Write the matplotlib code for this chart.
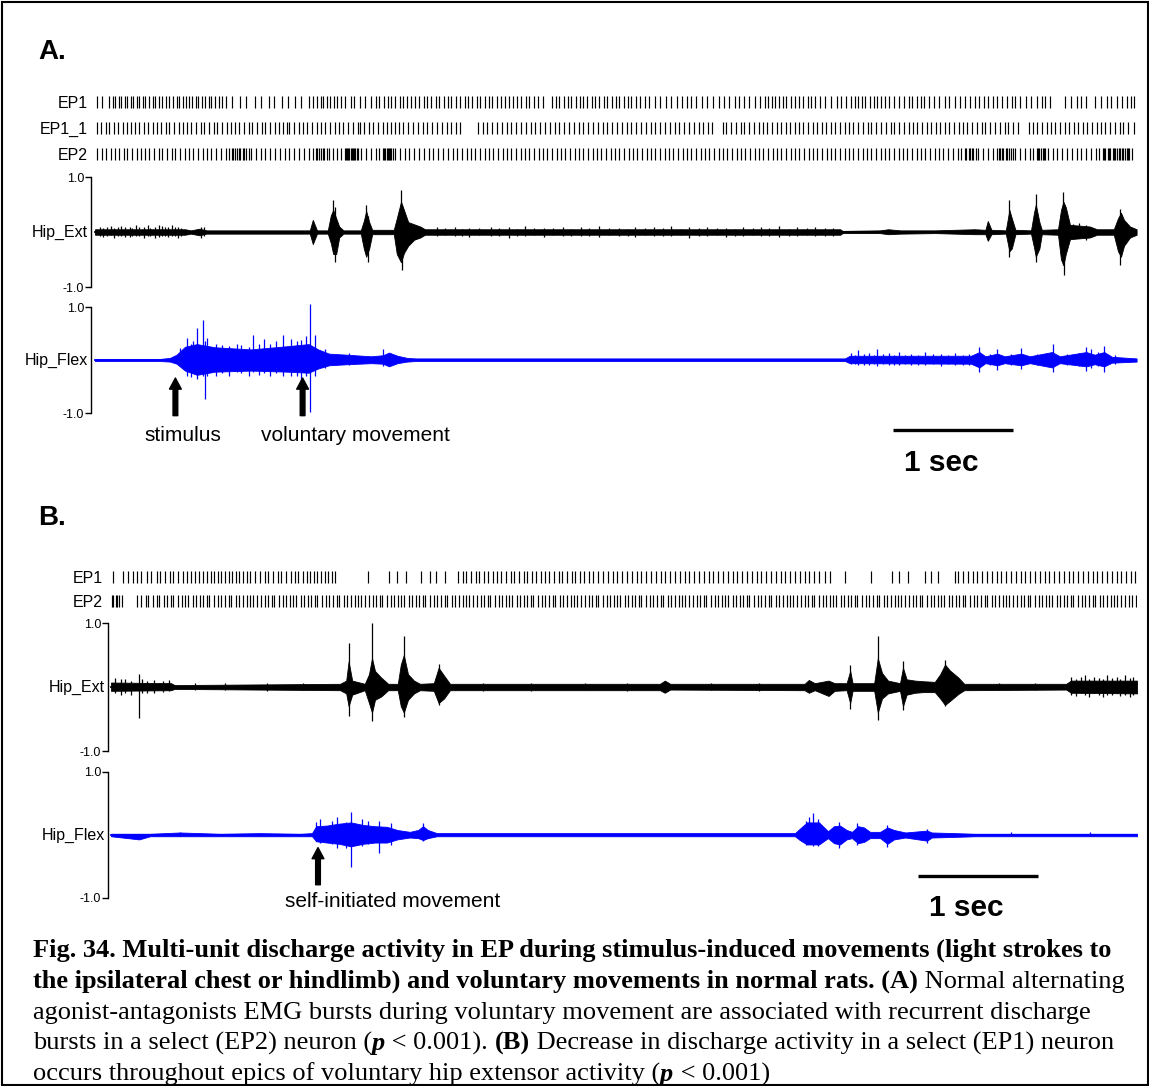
import numpy as np
import matplotlib.pyplot as plt
from matplotlib.patches import Rectangle
import matplotlib.transforms as mtransforms

plt.rcParams['font.family'] = ['Liberation Sans', 'DejaVu Sans']

# ---------------- data (time in seconds, EMG in normalised units) ----------------
# panel A spike trains
ep1_a = [0.02, 0.06, 0.12, 0.15, 0.17, 0.2, 0.22, 0.25, 0.27, 0.3, 0.32, 0.35, 0.37, 0.4, 0.42, 0.45, 0.48, 0.5,
         0.53, 0.56, 0.59, 0.62, 0.65, 0.68, 0.7, 0.73, 0.76, 0.78, 0.81, 0.84, 0.86, 0.89, 0.92, 0.95, 0.97, 1.0,
         1.03, 1.06, 1.09, 1.14, 1.21, 1.26, 1.33, 1.38, 1.45, 1.49, 1.56, 1.61, 1.67, 1.72, 1.78, 1.82, 1.85, 1.88,
         1.9, 1.93, 1.96, 1.99, 2.02, 2.05, 2.08, 2.13, 2.16, 2.21, 2.25, 2.3, 2.34, 2.37, 2.41, 2.44, 2.47, 2.5,
         2.54, 2.57, 2.6, 2.63, 2.67, 2.7, 2.74, 2.77, 2.8, 2.84, 2.87, 2.91, 2.94, 2.97, 3.01, 3.04, 3.08, 3.11,
         3.14, 3.18, 3.21, 3.25, 3.28, 3.31, 3.35, 3.38, 3.42, 3.45, 3.48, 3.52, 3.55, 3.59, 3.62, 3.66, 3.69, 3.73,
         3.81, 3.84, 3.87, 3.91, 3.94, 3.97, 4.01, 4.04, 4.07, 4.1, 4.14, 4.17, 4.2, 4.24, 4.27, 4.31, 4.34, 4.37,
         4.41, 4.44, 4.47, 4.51, 4.54, 4.58, 4.62, 4.67, 4.71, 4.76, 4.8, 4.85, 4.89, 4.93, 4.97, 5.01, 5.06, 5.1,
         5.15, 5.2, 5.24, 5.28, 5.33, 5.37, 5.41, 5.45, 5.5, 5.54, 5.58, 5.61, 5.64, 5.67, 5.7, 5.73, 5.76, 5.8,
         5.83, 5.87, 5.9, 5.94, 5.97, 6.0, 6.04, 6.08, 6.13, 6.18, 6.22, 6.26, 6.3, 6.33, 6.36, 6.39, 6.42, 6.46,
         6.49, 6.52, 6.55, 6.58, 6.62, 6.66, 6.7, 6.74, 6.78, 6.81, 6.85, 6.88, 6.91, 6.95, 6.99, 7.03, 7.08, 7.12,
         7.17, 7.21, 7.25, 7.29, 7.33, 7.37, 7.41, 7.44, 7.48, 7.52, 7.56, 7.6, 7.64, 7.67, 7.71, 7.76, 7.8, 7.85,
         7.89, 7.92, 7.96, 8.08, 8.13, 8.18, 8.22, 8.26, 8.33, 8.38, 8.43, 8.47, 8.52, 8.56, 8.6, 8.63, 8.66]
ep1_1_a = [0.02, 0.05, 0.09, 0.12, 0.16, 0.19, 0.23, 0.27, 0.3, 0.33, 0.37, 0.41, 0.44, 0.48, 0.52, 0.55, 0.59,
           0.62, 0.66, 0.7, 0.73, 0.77, 0.8, 0.84, 0.88, 0.91, 0.95, 0.99, 1.02, 1.06, 1.1, 1.13, 1.17, 1.2, 1.24,
           1.28, 1.31, 1.35, 1.39, 1.42, 1.46, 1.5, 1.53, 1.57, 1.6, 1.62, 1.66, 1.7, 1.73, 1.77, 1.81, 1.85, 1.88,
           1.92, 1.96, 2.0, 2.03, 2.07, 2.11, 2.15, 2.19, 2.21, 2.24, 2.28, 2.32, 2.36, 2.4, 2.43, 2.47, 2.5, 2.53,
           2.57, 2.61, 2.65, 2.69, 2.73, 2.77, 2.81, 2.85, 2.89, 2.93, 2.97, 3.01, 3.04, 3.19, 3.23, 3.27, 3.31,
           3.35, 3.39, 3.43, 3.47, 3.51, 3.55, 3.59, 3.63, 3.67, 3.71, 3.75, 3.79, 3.83, 3.87, 3.91, 3.95, 3.99,
           4.03, 4.07, 4.11, 4.15, 4.19, 4.23, 4.27, 4.31, 4.35, 4.39, 4.43, 4.47, 4.51, 4.55, 4.59, 4.63, 4.67,
           4.71, 4.75, 4.79, 4.83, 4.87, 4.91, 4.95, 4.99, 5.03, 5.07, 5.11, 5.14, 5.23, 5.26, 5.3, 5.34, 5.38,
           5.41, 5.45, 5.49, 5.53, 5.57, 5.6, 5.64, 5.68, 5.72, 5.76, 5.79, 5.83, 5.87, 5.9, 5.94, 5.98, 6.02, 6.06,
           6.09, 6.13, 6.17, 6.21, 6.25, 6.28, 6.32, 6.36, 6.4, 6.44, 6.47, 6.51, 6.55, 6.59, 6.63, 6.66, 6.7, 6.74,
           6.78, 6.82, 6.85, 6.89, 6.93, 6.97, 7.01, 7.04, 7.08, 7.12, 7.16, 7.2, 7.23, 7.27, 7.31, 7.35, 7.39,
           7.42, 7.46, 7.5, 7.54, 7.58, 7.61, 7.65, 7.69, 7.78, 7.82, 7.85, 7.89, 7.93, 7.97, 8.0, 8.04, 8.08, 8.12,
           8.16, 8.19, 8.23, 8.27, 8.31, 8.35, 8.38, 8.42, 8.46, 8.5, 8.54, 8.57, 8.61, 8.66]
ep2_a = [0.02, 0.06, 0.09, 0.13, 0.17, 0.2, 0.24, 0.27, 0.31, 0.35, 0.38, 0.42, 0.45, 0.49, 0.53, 0.56, 0.6, 0.64,
         0.67, 0.71, 0.75, 0.78, 0.82, 0.86, 0.9, 0.93, 0.97, 1.01, 1.05, 1.09, 1.12, 1.14, 1.15, 1.17, 1.18, 1.2,
         1.21, 1.23, 1.24, 1.26, 1.28, 1.3, 1.34, 1.38, 1.42, 1.46, 1.5, 1.54, 1.58, 1.62, 1.66, 1.7, 1.74, 1.78,
         1.82, 1.84, 1.85, 1.87, 1.88, 1.9, 1.91, 1.93, 1.95, 1.98, 2.02, 2.05, 2.08, 2.09, 2.1, 2.11, 2.12, 2.13,
         2.14, 2.15, 2.16, 2.17, 2.18, 2.19, 2.22, 2.26, 2.3, 2.34, 2.37, 2.4, 2.41, 2.42, 2.43, 2.44, 2.45, 2.46,
         2.47, 2.48, 2.5, 2.54, 2.58, 2.62, 2.66, 2.7, 2.74, 2.78, 2.82, 2.86, 2.9, 2.94, 2.98, 3.02, 3.06, 3.1,
         3.13, 3.17, 3.21, 3.25, 3.28, 3.32, 3.36, 3.4, 3.43, 3.47, 3.51, 3.55, 3.58, 3.62, 3.66, 3.7, 3.73, 3.77,
         3.81, 3.85, 3.88, 3.92, 3.96, 4.0, 4.03, 4.07, 4.11, 4.15, 4.18, 4.22, 4.26, 4.3, 4.33, 4.37, 4.41, 4.45,
         4.48, 4.52, 4.56, 4.6, 4.63, 4.67, 4.71, 4.75, 4.78, 4.82, 4.86, 4.9, 4.93, 4.97, 5.01, 5.05, 5.08, 5.12,
         5.16, 5.2, 5.23, 5.27, 5.31, 5.35, 5.38, 5.42, 5.46, 5.5, 5.53, 5.57, 5.61, 5.65, 5.68, 5.72, 5.76, 5.8,
         5.83, 5.87, 5.91, 5.95, 5.98, 6.02, 6.06, 6.1, 6.13, 6.17, 6.21, 6.25, 6.28, 6.32, 6.36, 6.4, 6.43, 6.47,
         6.51, 6.55, 6.58, 6.62, 6.66, 6.7, 6.73, 6.77, 6.81, 6.85, 6.88, 6.92, 6.96, 7.0, 7.03, 7.07, 7.11, 7.15,
         7.19, 7.22, 7.25, 7.26, 7.28, 7.29, 7.31, 7.32, 7.34, 7.36, 7.4, 7.44, 7.48, 7.52, 7.53, 7.54, 7.56, 7.57,
         7.59, 7.6, 7.62, 7.63, 7.65, 7.67, 7.71, 7.75, 7.79, 7.82, 7.85, 7.86, 7.87, 7.88, 7.9, 7.91, 7.92, 7.94,
         7.98, 8.02, 8.06, 8.1, 8.14, 8.18, 8.22, 8.26, 8.3, 8.34, 8.37, 8.4, 8.41, 8.42, 8.44, 8.45, 8.46, 8.48,
         8.49, 8.5, 8.52, 8.53, 8.54, 8.56, 8.57, 8.58, 8.6, 8.61, 8.62, 8.64]

# panel A EMG: envelope rows (time, upper, lower) and single spikes (time, upper, lower)
ext_a_env = [(0.0, 0.05, 0.05), (0.75, 0.05, 0.05), (0.8, 0.03, 0.03), (0.87, 0.06, 0.06), (0.93, 0.03, 0.03),
             (1.79, 0.03, 0.03), (1.815, 0.22, 0.22), (1.85, 0.03, 0.03), (1.94, 0.03, 0.03), (1.965, 0.3, 0.2),
             (1.985, 0.4, 0.4), (2.01, 0.25, 0.4), (2.035, 0.1, 0.1), (2.07, 0.03, 0.03), (2.215, 0.03, 0.03),
             (2.24, 0.2, 0.3), (2.26, 0.38, 0.45), (2.285, 0.18, 0.3), (2.31, 0.04, 0.04), (2.49, 0.04, 0.04),
             (2.515, 0.25, 0.4), (2.55, 0.55, 0.55), (2.575, 0.4, 0.38), (2.61, 0.18, 0.25), (2.66, 0.14, 0.14),
             (2.71, 0.1, 0.1), (2.75, 0.05, 0.05), (6.21, 0.05, 0.05), (6.23, 0.02, 0.02), (6.54, 0.03, 0.02),
             (6.61, 0.05, 0.04), (6.71, 0.03, 0.03), (7.0, 0.03, 0.02), (7.33, 0.05, 0.04), (7.42, 0.04, 0.04),
             (7.44, 0.2, 0.16), (7.47, 0.04, 0.04), (7.59, 0.03, 0.03), (7.62, 0.4, 0.35), (7.64, 0.25, 0.3),
             (7.67, 0.04, 0.04), (7.8, 0.03, 0.03), (7.825, 0.35, 0.28), (7.84, 0.5, 0.45), (7.87, 0.18, 0.3),
             (7.89, 0.04, 0.04), (8.025, 0.05, 0.05), (8.05, 0.4, 0.5), (8.07, 0.55, 0.6), (8.09, 0.45, 0.4),
             (8.125, 0.13, 0.13), (8.29, 0.1, 0.1), (8.35, 0.05, 0.05), (8.49, 0.05, 0.05), (8.525, 0.25, 0.35),
             (8.55, 0.35, 0.45), (8.575, 0.22, 0.25), (8.625, 0.1, 0.1), (8.68, 0.05, 0.05)]
ext_a_spk = [(0.04, 0.09, 0.07), (0.07, 0.08, 0.09), (0.1, 0.1, 0.08), (0.13, 0.11, 0.06), (0.16, 0.08, 0.1),
             (0.19, 0.09, 0.08), (0.22, 0.11, 0.07), (0.25, 0.1, 0.09), (0.29, 0.09, 0.09), (0.31, 0.08, 0.07),
             (0.34, 0.12, 0.08), (0.37, 0.1, 0.08), (0.41, 0.1, 0.1), (0.44, 0.12, 0.07), (0.46, 0.08, 0.07),
             (0.5, 0.09, 0.1), (0.53, 0.12, 0.09), (0.56, 0.11, 0.08), (0.58, 0.1, 0.08), (0.61, 0.09, 0.09),
             (0.64, 0.13, 0.08), (0.67, 0.1, 0.07), (0.69, 0.09, 0.1), (0.72, 0.08, 0.08), (0.88, 0.09, 0.1),
             (0.91, 0.1, 0.08), (1.985, 0.58, 0.3), (2.0, 0.45, 0.55), (2.26, 0.5, 0.4), (2.275, 0.3, 0.55),
             (2.55, 0.76, 0.5), (2.56, 0.5, 0.7), (2.85, 0.09, 0.07), (2.92, 0.07, 0.06), (3.0, 0.1, 0.08),
             (3.06, 0.06, 0.07), (3.12, 0.08, 0.09), (3.2, 0.08, 0.06), (3.3, 0.1, 0.07), (3.37, 0.07, 0.07),
             (3.45, 0.09, 0.1), (3.52, 0.06, 0.08), (3.58, 0.11, 0.08), (3.66, 0.08, 0.06), (3.74, 0.08, 0.09),
             (3.82, 0.07, 0.06), (3.9, 0.1, 0.08), (3.97, 0.06, 0.08), (4.05, 0.09, 0.07), (4.12, 0.08, 0.07),
             (4.2, 0.11, 0.09), (4.28, 0.07, 0.06), (4.37, 0.08, 0.08), (4.44, 0.06, 0.07), (4.5, 0.1, 0.09),
             (4.58, 0.08, 0.06), (4.66, 0.09, 0.07), (4.73, 0.07, 0.08), (4.8, 0.11, 0.08), (4.88, 0.06, 0.06),
             (4.95, 0.09, 0.1), (5.03, 0.08, 0.07), (5.1, 0.1, 0.07), (5.18, 0.07, 0.06), (5.26, 0.08, 0.09),
             (5.33, 0.06, 0.08), (5.4, 0.1, 0.08), (5.48, 0.08, 0.06), (5.55, 0.09, 0.08), (5.62, 0.07, 0.07),
             (5.7, 0.11, 0.09), (5.78, 0.06, 0.08), (5.85, 0.09, 0.07), (5.93, 0.08, 0.06), (6.0, 0.1, 0.08),
             (6.08, 0.07, 0.07), (6.15, 0.08, 0.08), (7.62, 0.58, 0.45), (7.84, 0.69, 0.55), (8.065, 0.73, 0.6),
             (8.075, 0.5, 0.78), (8.15, 0.14, 0.12), (8.2, 0.16, 0.1), (8.26, 0.12, 0.14), (8.54, 0.42, 0.6)]

flex_a_env = [(0.0, 0.02, 0.02), (0.54, 0.02, 0.02), (0.625, 0.04, 0.03), (0.68, 0.1, 0.07), (0.75, 0.25, 0.2),
              (0.85, 0.3, 0.28), (1.0, 0.24, 0.22), (1.3, 0.2, 0.2), (1.6, 0.26, 0.22), (1.78, 0.3, 0.24),
              (1.86, 0.2, 0.16), (1.95, 0.12, 0.1), (2.1, 0.1, 0.08), (2.3, 0.07, 0.06), (2.4, 0.09, 0.07),
              (2.45, 0.14, 0.12), (2.52, 0.08, 0.06), (2.6, 0.04, 0.03), (2.67, 0.03, 0.02), (6.25, 0.03, 0.02),
              (6.29, 0.08, 0.06), (7.3, 0.08, 0.07), (7.37, 0.15, 0.14), (7.42, 0.07, 0.06), (7.52, 0.12, 0.1),
              (7.58, 0.07, 0.06), (7.72, 0.12, 0.1), (7.79, 0.07, 0.06), (7.975, 0.15, 0.14), (8.04, 0.07, 0.06),
              (8.26, 0.15, 0.12), (8.33, 0.1, 0.08), (8.41, 0.15, 0.12), (8.475, 0.06, 0.05), (8.68, 0.03, 0.03)]
flex_a_spk = [(0.71, 0.23, 0.1), (0.77, 0.42, 0.3), (0.8, 0.3, 0.32), (0.82, 0.36, 0.25), (0.85, 0.6, 0.35),
              (0.9, 0.76, 0.3), (0.915, 0.35, 0.74), (0.93, 0.42, 0.3), (1.01, 0.3, 0.3), (1.06, 0.28, 0.25),
              (1.12, 0.26, 0.3), (1.18, 0.3, 0.22), (1.22, 0.28, 0.25), (1.28, 0.25, 0.3), (1.32, 0.48, 0.22),
              (1.37, 0.3, 0.28), (1.41, 0.4, 0.25), (1.46, 0.3, 0.3), (1.51, 0.35, 0.25), (1.57, 0.48, 0.3),
              (1.63, 0.4, 0.3), (1.68, 0.35, 0.3), (1.72, 0.37, 0.4), (1.76, 0.45, 0.3), (1.79, 1.05, 0.99),
              (1.83, 0.48, 0.3), (1.92, 0.2, 0.15), (2.12, 0.14, 0.1), (2.4, 0.2, 0.12), (6.3, 0.14, 0.08),
              (6.33, 0.1, 0.07), (6.36, 0.18, 0.1), (6.41, 0.11, 0.09), (6.45, 0.13, 0.1), (6.49, 0.1, 0.08),
              (6.52, 0.2, 0.12), (6.57, 0.11, 0.08), (6.62, 0.13, 0.09), (6.66, 0.1, 0.1), (6.7, 0.15, 0.1),
              (6.75, 0.1, 0.08), (6.8, 0.12, 0.09), (6.86, 0.1, 0.1), (6.92, 0.16, 0.1), (6.98, 0.11, 0.08),
              (7.05, 0.12, 0.12), (7.11, 0.1, 0.08), (7.17, 0.14, 0.1), (7.23, 0.1, 0.09), (7.28, 0.12, 0.1),
              (7.37, 0.25, 0.23), (7.46, 0.12, 0.1), (7.52, 0.2, 0.18), (7.63, 0.12, 0.1), (7.72, 0.23, 0.17),
              (7.85, 0.12, 0.1), (7.98, 0.3, 0.23), (8.1, 0.12, 0.1), (8.2, 0.14, 0.12), (8.26, 0.25, 0.2),
              (8.3, 0.2, 0.15), (8.36, 0.16, 0.12), (8.41, 0.27, 0.23), (8.5, 0.1, 0.08)]

# panel B spike trains
ep1_b = [0.02, 0.1, 0.14, 0.18, 0.22, 0.25, 0.3, 0.33, 0.38, 0.41, 0.45, 0.49, 0.52, 0.56, 0.6, 0.63, 0.67, 0.7,
         0.73, 0.77, 0.8, 0.83, 0.86, 0.89, 0.92, 0.95, 0.98, 1.01, 1.04, 1.07, 1.1, 1.13, 1.16, 1.2, 1.24, 1.28,
         1.31, 1.35, 1.39, 1.42, 1.46, 1.5, 1.53, 1.56, 1.6, 1.63, 1.66, 1.69, 1.72, 1.75, 1.78, 1.81, 1.84, 1.87,
         2.14, 2.32, 2.38, 2.46, 2.58, 2.66, 2.71, 2.78, 2.89, 2.93, 2.96, 3.0, 3.04, 3.07, 3.11, 3.14, 3.18, 3.22,
         3.25, 3.29, 3.33, 3.36, 3.4, 3.44, 3.47, 3.51, 3.54, 3.58, 3.62, 3.65, 3.69, 3.73, 3.76, 3.8, 3.84, 3.87,
         3.91, 3.94, 3.98, 4.02, 4.06, 4.1, 4.14, 4.18, 4.22, 4.26, 4.3, 4.34, 4.38, 4.42, 4.46, 4.5, 4.54, 4.58,
         4.62, 4.66, 4.7, 4.74, 4.78, 4.82, 4.86, 4.9, 4.94, 4.98, 5.02, 5.06, 5.1, 5.14, 5.18, 5.22, 5.26, 5.3,
         5.34, 5.38, 5.42, 5.46, 5.5, 5.54, 5.58, 5.62, 5.66, 5.7, 5.74, 5.78, 5.82, 5.86, 5.9, 5.95, 5.99, 6.12,
         6.33, 6.51, 6.57, 6.64, 6.78, 6.83, 6.89, 7.03, 7.06, 7.1, 7.14, 7.18, 7.22, 7.26, 7.3, 7.34, 7.38, 7.42,
         7.46, 7.5, 7.54, 7.58, 7.62, 7.66, 7.7, 7.74, 7.78, 7.82, 7.86, 7.9, 7.94, 7.98, 8.02, 8.06, 8.1, 8.14,
         8.18, 8.22, 8.26, 8.3, 8.34, 8.38, 8.42, 8.46, 8.5, 8.53]
ep2_b = [0.01, 0.02, 0.04, 0.05, 0.07, 0.09, 0.22, 0.25, 0.29, 0.31, 0.35, 0.38, 0.4, 0.44, 0.47, 0.5, 0.52, 0.56,
         0.59, 0.62, 0.64, 0.68, 0.71, 0.74, 0.77, 0.8, 0.82, 0.86, 0.89, 0.92, 0.95, 0.98, 1.0, 1.04, 1.07, 1.1,
         1.13, 1.16, 1.18, 1.22, 1.25, 1.28, 1.31, 1.34, 1.36, 1.4, 1.43, 1.46, 1.49, 1.52, 1.54, 1.58, 1.61, 1.64,
         1.67, 1.7, 1.72, 1.76, 1.79, 1.82, 1.85, 1.88, 1.9, 1.94, 1.97, 2.0, 2.03, 2.06, 2.08, 2.12, 2.15, 2.18,
         2.21, 2.24, 2.26, 2.3, 2.33, 2.36, 2.39, 2.42, 2.44, 2.48, 2.51, 2.54, 2.57, 2.6, 2.62, 2.66, 2.69, 2.72,
         2.75, 2.78, 2.8, 2.84, 2.87, 2.9, 2.93, 2.96, 2.98, 3.02, 3.05, 3.08, 3.11, 3.14, 3.16, 3.2, 3.23, 3.26,
         3.29, 3.32, 3.34, 3.38, 3.41, 3.44, 3.47, 3.5, 3.52, 3.56, 3.59, 3.62, 3.65, 3.68, 3.7, 3.74, 3.77, 3.8,
         3.83, 3.86, 3.88, 3.92, 3.95, 3.98, 4.01, 4.04, 4.06, 4.1, 4.13, 4.16, 4.19, 4.22, 4.24, 4.28, 4.31, 4.34,
         4.37, 4.4, 4.42, 4.46, 4.49, 4.52, 4.55, 4.58, 4.6, 4.64, 4.67, 4.7, 4.73, 4.76, 4.78, 4.82, 4.85, 4.88,
         4.91, 4.94, 4.96, 5.0, 5.03, 5.06, 5.09, 5.12, 5.14, 5.18, 5.21, 5.24, 5.27, 5.3, 5.32, 5.36, 5.39, 5.42,
         5.45, 5.48, 5.5, 5.54, 5.57, 5.6, 5.63, 5.66, 5.68, 5.72, 5.75, 5.78, 5.81, 5.84, 5.86, 5.9, 5.93, 5.96,
         5.99, 6.02, 6.04, 6.08, 6.11, 6.14, 6.17, 6.2, 6.22, 6.26, 6.29, 6.32, 6.35, 6.38, 6.4, 6.44, 6.47, 6.5,
         6.53, 6.56, 6.58, 6.62, 6.65, 6.68, 6.71, 6.74, 6.76, 6.8, 6.83, 6.86, 6.89, 6.92, 6.94, 6.98, 7.01, 7.04,
         7.07, 7.1, 7.12, 7.16, 7.19, 7.22, 7.25, 7.28, 7.3, 7.34, 7.37, 7.4, 7.43, 7.46, 7.48, 7.52, 7.55, 7.58,
         7.61, 7.64, 7.66, 7.7, 7.73, 7.76, 7.79, 7.82, 7.84, 7.88, 7.91, 7.94, 7.97, 8.0, 8.02, 8.06, 8.09, 8.12,
         8.15, 8.18, 8.2, 8.24, 8.27, 8.3, 8.33, 8.36, 8.38, 8.42, 8.45, 8.48, 8.51, 8.54]

ext_b_env = [(0.0, 0.07, 0.06), (0.5, 0.06, 0.05), (0.53, 0.03, 0.03), (1.91, 0.05, 0.05), (1.96, 0.1, 0.1),
             (1.98, 0.4, 0.3), (2.01, 0.1, 0.12), (2.115, 0.05, 0.05), (2.15, 0.2, 0.25), (2.175, 0.45, 0.4),
             (2.2, 0.25, 0.2), (2.25, 0.15, 0.15), (2.31, 0.05, 0.05), (2.39, 0.05, 0.05), (2.415, 0.35, 0.3),
             (2.44, 0.5, 0.4), (2.475, 0.2, 0.2), (2.525, 0.1, 0.1), (2.575, 0.05, 0.05), (2.69, 0.06, 0.06),
             (2.73, 0.3, 0.25), (2.775, 0.18, 0.18), (2.825, 0.05, 0.05), (4.575, 0.05, 0.05), (4.615, 0.1, 0.09),
             (4.66, 0.05, 0.04), (5.78, 0.05, 0.05), (5.815, 0.11, 0.09), (5.865, 0.06, 0.05), (5.98, 0.1, 0.14),
             (6.03, 0.06, 0.06), (6.13, 0.06, 0.05), (6.16, 0.25, 0.25), (6.18, 0.06, 0.06), (6.36, 0.06, 0.06),
             (6.39, 0.45, 0.4), (6.425, 0.22, 0.18), (6.475, 0.1, 0.1), (6.575, 0.06, 0.06), (6.6, 0.3, 0.3),
             (6.63, 0.12, 0.12), (6.7, 0.1, 0.09), (6.77, 0.09, 0.08), (6.865, 0.08, 0.08), (6.91, 0.2, 0.18),
             (6.95, 0.35, 0.28), (6.99, 0.26, 0.22), (7.06, 0.15, 0.11), (7.11, 0.05, 0.05), (7.96, 0.05, 0.04),
             (8.0, 0.1, 0.09), (8.55, 0.1, 0.1)]
ext_b_spk = [(0.03, 0.14, 0.1), (0.08, 0.12, 0.12), (0.12, 0.13, 0.09), (0.17, 0.1, 0.12), (0.235, 0.2, 0.48),
             (0.26, 0.12, 0.1), (0.3, 0.1, 0.09), (0.36, 0.11, 0.1), (0.43, 0.1, 0.08), (0.48, 0.11, 0.07),
             (0.7, 0.06, 0.05), (0.95, 0.07, 0.05), (1.3, 0.06, 0.06), (1.6, 0.07, 0.05), (1.98, 0.69, 0.45),
             (2.175, 1.0, 0.53), (2.44, 0.8, 0.47), (2.73, 0.36, 0.28), (3.1, 0.07, 0.06), (3.5, 0.06, 0.06),
             (3.95, 0.07, 0.05), (4.3, 0.06, 0.06), (5.0, 0.07, 0.05), (5.4, 0.06, 0.06), (6.16, 0.34, 0.34),
             (6.39, 0.8, 0.52), (6.6, 0.4, 0.36), (6.95, 0.42, 0.3), (7.4, 0.06, 0.05), (7.7, 0.06, 0.05),
             (8.0, 0.16, 0.12), (8.04, 0.12, 0.14), (8.08, 0.15, 0.1), (8.12, 0.18, 0.12), (8.15, 0.12, 0.16),
             (8.19, 0.16, 0.1), (8.23, 0.14, 0.13), (8.27, 0.12, 0.16), (8.3, 0.19, 0.12), (8.34, 0.14, 0.13),
             (8.38, 0.16, 0.1), (8.41, 0.12, 0.14), (8.45, 0.18, 0.12), (8.49, 0.14, 0.16), (8.52, 0.16, 0.12)]

flex_b_env = [(0.0, 0.02, 0.02), (0.235, 0.02, 0.07), (0.325, 0.02, 0.02), (0.575, 0.04, 0.02), (0.91, 0.02, 0.02),
              (1.24, 0.03, 0.02), (1.575, 0.02, 0.02), (1.675, 0.03, 0.02), (1.71, 0.14, 0.1), (1.8, 0.15, 0.12),
              (1.9, 0.18, 0.14), (2.0, 0.2, 0.18), (2.1, 0.16, 0.14), (2.2, 0.14, 0.12), (2.3, 0.13, 0.12),
              (2.385, 0.08, 0.07), (2.49, 0.05, 0.04), (2.56, 0.08, 0.05), (2.6, 0.14, 0.08), (2.64, 0.08, 0.05),
              (2.715, 0.03, 0.02), (5.7, 0.03, 0.02), (5.74, 0.1, 0.08), (5.8, 0.2, 0.15), (5.9, 0.2, 0.15),
              (5.975, 0.06, 0.05), (6.025, 0.14, 0.13), (6.075, 0.15, 0.15), (6.13, 0.08, 0.07), (6.175, 0.05, 0.05),
              (6.225, 0.14, 0.13), (6.275, 0.12, 0.11), (6.325, 0.05, 0.05), (6.41, 0.05, 0.05), (6.47, 0.12, 0.14),
              (6.525, 0.08, 0.07), (6.62, 0.04, 0.04), (6.8, 0.07, 0.09), (6.84, 0.04, 0.04), (7.03, 0.03, 0.03),
              (7.2, 0.02, 0.02), (8.55, 0.02, 0.02)]
flex_b_spk = [(0.235, 0.02, 0.07), (0.575, 0.04, 0.02), (1.71, 0.2, 0.1), (1.74, 0.25, 0.12), (1.84, 0.22, 0.14),
              (1.885, 0.29, 0.2), (1.96, 0.2, 0.2), (2.0, 0.37, 0.5), (2.09, 0.25, 0.18), (2.14, 0.22, 0.15),
              (2.235, 0.22, 0.28), (2.335, 0.19, 0.16), (2.6, 0.19, 0.1), (5.79, 0.22, 0.16), (5.82, 0.28, 0.15),
              (5.85, 0.35, 0.18), (5.89, 0.25, 0.17), (6.07, 0.2, 0.2), (6.22, 0.19, 0.16), (6.47, 0.16, 0.19),
              (6.8, 0.1, 0.13), (7.5, 0.04, 0.02), (8.16, 0.04, 0.02)]

# annotated events (s)
events_a = [0.67, 1.73]
event_labels_a = ['stimulus', 'voluntary movement']
event_label_x_a = [0.73, 2.17]
events_b = [1.725]
event_labels_b = ['self-initiated movement']
event_label_x_b = [2.35]
scale_a_start, scale_b_start, scale_len = 6.65, 6.725, 1.0

# ---------------- figure ----------------
W, H = 1149, 1086
fig = plt.figure(figsize=(W / 100, H / 100), dpi=100)


def px_axes(x0, y0, x1, y1):
    return fig.add_axes([x0 / W, 1 - y1 / H, (x1 - x0) / W, (y1 - y0) / H])


def raster(ax, trains, names, xlim, ll, pad):
    ax.eventplot(trains, lineoffsets=list(range(len(trains))), linelengths=ll, colors='black', linewidths=0.85)
    ax.set_xlim(xlim)
    ax.set_ylim(len(trains) - 0.5, -0.5)
    ax.set_yticks(range(len(trains)), names)
    ax.tick_params(axis='y', length=0, pad=pad, labelsize=11.5)
    ax.set_xticks([])
    for s in ax.spines.values():
        s.set_visible(False)


def trace(ax, env, spikes, color, name, xlim):
    t, hi, lo = np.array(env).T
    ax.fill_between(t, hi, -lo, color=color, lw=0.6, clip_on=False)
    ax.plot(t, np.zeros_like(t), color=color, lw=1.3)
    st, shi, slo = np.array(spikes).T
    ax.vlines(st, -slo, shi, color=color, lw=0.9, clip_on=False)
    ax.set_xlim(xlim)
    ax.set_ylim(-1, 1)
    ax.set_yticks([-1, 1], ['-1.0', '1.0'])
    ax.tick_params(axis='y', length=4, width=1, labelsize=9, pad=1)
    ax.set_xticks([])
    for k in ['top', 'right', 'bottom']:
        ax.spines[k].set_visible(False)
    ax.spines['left'].set_linewidth(1)
    ax.annotate(name, xy=(0, 0.5), xycoords='axes fraction', xytext=(-2.5, 0), textcoords='offset points',
                ha='right', va='center', fontsize=11.5)


def arrows(ax, xs, y_head, y_tail, labels, lx, ly, fs):
    for x, lab, tx in zip(xs, labels, lx):
        ax.annotate('', xy=(x, y_head), xytext=(x, y_tail), annotation_clip=False,
                    arrowprops=dict(facecolor='black', edgecolor='black', width=3.4, headwidth=8.5,
                                    headlength=8, shrink=0))
        ax.text(tx, ly, lab, ha='center', va='center', fontsize=fs, clip_on=False)


def scale_bar(ax, x0, ybar, ytext):
    tr = mtransforms.blended_transform_factory(ax.transData, ax.transAxes)
    ax.plot([x0, x0 + scale_len], [ybar, ybar], color='black', lw=2.4, transform=tr, clip_on=False,
            solid_capstyle='butt')
    ax.text(x0 + scale_len / 2 - 0.1, ytext, '1 sec', transform=tr, ha='center', va='center',
            fontsize=21.5, fontweight='bold')


xlim_a = (-4 / 120, 1042 / 120)
xlim_b = (-3 / 120, 1026 / 120)

# panel A
ra = px_axes(91, 89, 1137, 167)
raster(ra, [ep1_a, ep1_1_a, ep2_a], ['EP1', 'EP1_1', 'EP2'], xlim_a, 0.46, 2)
ax_ext_a = px_axes(91, 177, 1137, 287)
trace(ax_ext_a, ext_a_env, ext_a_spk, 'black', 'Hip_Ext', xlim_a)
ax_flex_a = px_axes(91, 307, 1137, 413)
trace(ax_flex_a, flex_a_env, flex_a_spk, '#0000ff', 'Hip_Flex', xlim_a)
arrows(ax_flex_a, events_a, -0.34, -1.05, event_labels_a, event_label_x_a, -1.42, 15)
scale_bar(ax_flex_a, scale_a_start, -0.16, -0.472)

# panel B
rb = px_axes(108, 565, 1137, 613)
raster(rb, [ep1_b, ep2_b], ['EP1', 'EP2'], xlim_b, 0.5, 3.5)
ax_ext_b = px_axes(108, 623, 1137, 751)
trace(ax_ext_b, ext_b_env, ext_b_spk, 'black', 'Hip_Ext', xlim_b)
ax_flex_b = px_axes(108, 772, 1137, 898)
trace(ax_flex_b, flex_b_env, flex_b_spk, '#0000ff', 'Hip_Flex', xlim_b)
arrows(ax_flex_b, events_b, -0.2, -0.79, event_labels_b, event_label_x_b, -1.05, 15)
scale_bar(ax_flex_b, scale_b_start, 0.175, -0.079)

fig.text(38 / W, 1 - 52 / H, 'A.', fontsize=20, fontweight='bold', va='center')
fig.text(38 / W, 1 - 518 / H, 'B.', fontsize=20, fontweight='bold', va='center')

# caption with mixed styles
B = dict(fontweight='bold')
R = dict()
BI = dict(fontweight='bold', fontstyle='italic')
caption = [
    [('Fig. 34. Multi-unit discharge activity in EP during stimulus-induced movements (light strokes to', B)],
    [('the ipsilateral chest or hindlimb) and voluntary movements in normal rats. (A)', B),
     (' Normal alternating', R)],
    [('agonist-antagonists EMG bursts during voluntary movement are associated with recurrent discharge', R)],
    [('bursts in a select (EP2) neuron (', R), ('p', BI), (' < 0.001). ', R), ('(B)', B),
     (' Decrease in discharge activity in a select (EP1) neuron', R)],
    [('occurs throughout epics of voluntary hip extensor activity (', R), ('p', BI), (' < 0.001)', R)],
]
renderer = fig.canvas.get_renderer()
probe = fig.text(0, 0, caption[0][0][0], fontsize=16, family='Liberation Serif', fontweight='bold')
cap_fs = 16 * 1085 / probe.get_window_extent(renderer).width
probe.remove()
for i, parts in enumerate(caption):
    x = 33
    y = 948 + 31 * i + 9
    for s, st in parts:
        t = fig.text(x / W, 1 - y / H, s, fontsize=cap_fs, family='Liberation Serif', va='baseline', ha='left', **st)
        x += t.get_window_extent(renderer).width

fig.add_artist(Rectangle((1.5 / W, 1.5 / H), (W - 3) / W, (H - 3) / H, transform=fig.transFigure,
                         fill=False, lw=1.5, ec='black'))

fig.savefig('out.png', dpi=100)
